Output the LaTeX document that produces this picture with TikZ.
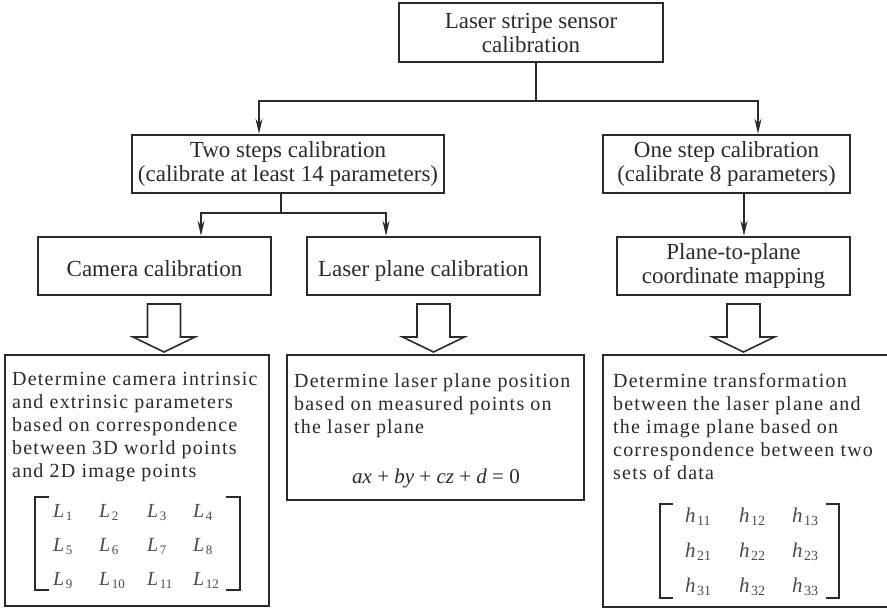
\documentclass[tikz,border=0pt]{standalone}
\usepackage{fontspec}
\setmainfont{Liberation Serif}
\newfontfamily\bodyfont{Liberation Serif}[LetterSpace=6]
\usetikzlibrary{arrows.meta}
\definecolor{ink}{HTML}{2A2A2A}
% italic symbol with a lowered index
\newcommand\idx[3]{\textit{#1}\kern1.5pt\raisebox{-3.5pt}{\fontsize{#3}{#3}\selectfont #2}}
\begin{document}
\begin{tikzpicture}[x=1pt,y=-1pt,
  box/.style={draw=ink, line width=2.4pt, rectangle, inner sep=0pt, align=center,
    text=ink, font=\fontsize{23}{24}\selectfont},
  oneline/.style={text height=20pt, text depth=0pt},
  panel/.style={draw=ink, line width=2.4pt, rectangle, inner sep=0pt},
  link/.style={draw=ink, line width=1.6pt},
  arr/.style={link, -{Stealth[length=15pt,width=7pt]}},
  para/.style={anchor=north west, inner sep=0pt, align=left, text=ink,
    font=\bodyfont\fontsize{20}{23}\selectfont},
  entry/.style={anchor=base west, inner sep=0pt, text=ink!85},
  bracket/.style={draw=ink, line width=1.8pt},
  blockarrow/.pic={\draw[ink, line width=1.6pt, line join=miter]
    (-16.5,0) -- (16.5,0) -- (16.5,33) -- (31,33) -- (0,48) -- (-31,33) -- (-16.5,33) -- cycle;}
]
\useasboundingbox (0,0) rectangle (887,610);
\clip (0,0) rectangle (887,610);

% --- upper tree ---
\node[box, minimum width=264pt, minimum height=59pt] (top) at (531,32.5)
  {Laser stripe sensor\\calibration};
\node[box, minimum width=312pt, minimum height=58pt] (two) at (288,164)
  {Two steps calibration\\(calibrate at least 14 parameters)};
\node[box, minimum width=247pt, minimum height=58pt] (one) at (726.5,164)
  {One step calibration\\(calibrate 8 parameters)};
\node[box, oneline, minimum width=233pt, minimum height=58pt] (cam) at (154.5,266)
  {Camera calibration};
\node[box, oneline, minimum width=233pt, minimum height=58pt] (las) at (423.5,266)
  {Laser plane calibration};
\node[box, minimum width=233pt, minimum height=58pt] (pln) at (733.5,266)
  {Plane-to-plane\\coordinate mapping};

\draw[link] ([xshift=5pt]top.south) -- ++(0,38) coordinate (j1);
\draw[arr] (j1) -| ([xshift=-29pt]two.north);
\draw[arr] (j1) -| ([xshift=31.5pt]one.north);
\draw[link] ([xshift=-7pt]two.south) -- ++(0,19) coordinate (j2);
\draw[arr] (j2) -| ([xshift=46.5pt]cam.north);
\draw[arr] (j2) -| ([xshift=-37.5pt]las.north);
\draw[arr] ([xshift=17.5pt]one.south) -- ([xshift=17.5pt]one.south |- pln.north);

% --- hollow arrows ---
\pic at (164,304) {blockarrow};
\pic at (433.5,304) {blockarrow};
\pic at (743.5,304) {blockarrow};

% --- result panels ---
\node[panel, minimum width=264pt, minimum height=251pt] (rcam) at (137,480.5) {};
\node[panel, minimum width=297pt, minimum height=145pt] (rlas) at (435.5,427.5) {};
\node[panel, minimum width=320pt, minimum height=252pt] (rpln) at (763,481) {};

\node[para] (tcam) at (12,372)
  {Determine camera intrinsic\\and extrinsic parameters\\based on correspondence\\between 3D world points\\and 2D image points};
\node[para] (tlas) at (294,373)
  {Determine laser plane position\\based on measured points on\\the laser plane};
\node[para] (tpln) at (613,373)
  {Determine transformation\\between the laser plane and\\the image plane based on\\correspondence between two\\sets of data};

\node[anchor=base, inner sep=0pt, text=ink, font=\fontsize{21}{21}\selectfont] (eq) at (436,483)
  {\textit{ax} + \textit{by} + \textit{cz} + \textit{d} = 0};

% camera parameter matrix
\draw[bracket] (49,497) -- (35,497) -- (35,590) -- (49,590);
\draw[bracket] (226,497) -- (240,497) -- (240,590) -- (226,590);
\foreach \r/\y in {0/517,1/551,2/585}{
  \foreach \c/\x in {1/53,2/99,3/147,4/193}{
    \pgfmathtruncatemacro\k{4*\r+\c}
    \node[entry, font=\fontsize{20}{20}\selectfont] (L\k) at (\x,\y) {\idx{L}{\k}{13}};
  }
}

% homography matrix
\draw[bracket] (673,504) -- (660,504) -- (660,598) -- (673,598);
\draw[bracket] (826,504) -- (839,504) -- (839,598) -- (826,598);
\foreach \r/\y in {1/522,2/557,3/592}{
  \foreach \c/\x in {1/685,2/739,3/792}{
    \node[entry, font=\fontsize{21}{21}\selectfont] (h\r\c) at (\x,\y) {\idx{h}{\r\c}{14}};
  }
}
\end{tikzpicture}
\end{document}
